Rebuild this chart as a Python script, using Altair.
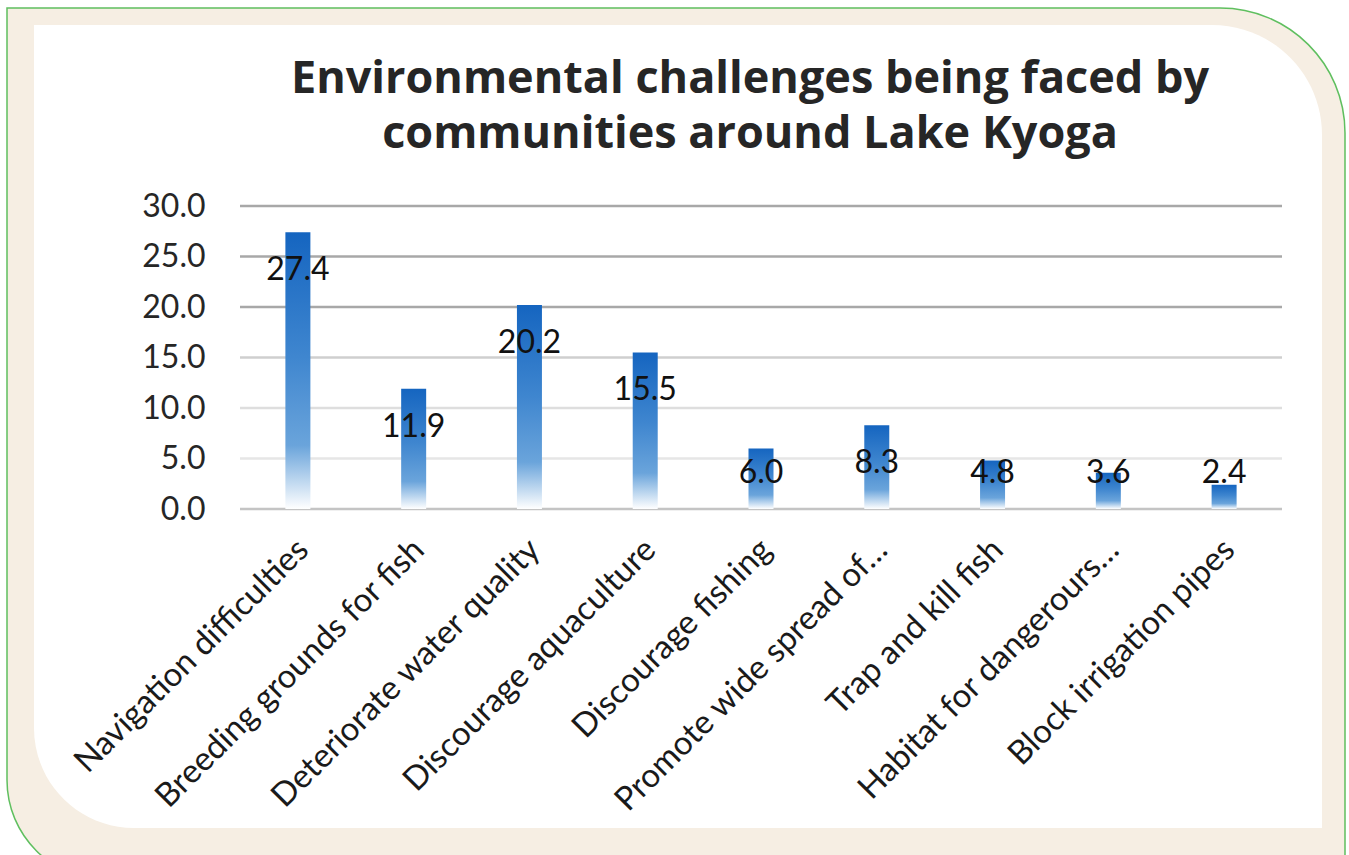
import altair as alt
import pandas as pd

categories = [
    "Navigation difficulties",
    "Breeding grounds for fish",
    "Deteriorate water quality",
    "Discourage aquaculture",
    "Discourage fishing",
    "Promote wide spread of…",
    "Trap and kill fish",
    "Habitat for dangerours…",
    "Block irrigation pipes",
]
values = [27.4, 11.9, 20.2, 15.5, 6.0, 8.3, 4.8, 3.6, 2.4]
title_lines = ["Environmental challenges being faced by", "communities around Lake Kyoga"]
y_ticks = [0, 5, 10, 15, 20, 25, 30]

df = pd.DataFrame({"cat": categories, "val": values})
grid_df = pd.DataFrame({"v": y_ticks})
one = pd.DataFrame({"k": [0]})

W, H = 1042, 303
LEFT, TOP = 240, 206

x_scale = alt.Scale(domain=categories, paddingInner=0, paddingOuter=0)
y_scale = alt.Scale(domain=[0, 30], nice=False)

x_axis = alt.Axis(
    title=None, labelAngle=-45, labelFontSize=33, labelFont="Lato",
    labelColor="#1a1a1a", labelPadding=24, labelOffset=-6, labelLimit=0,
    domain=False, ticks=False, grid=False, zindex=2)
y_axis = alt.Axis(
    title=None, values=y_ticks, format=".1f", labelFontSize=32,
    labelFont="Lato", labelColor="#262626", labelPadding=35,
    domain=False, ticks=False, grid=False, zindex=2)

# decorative frame
outer = alt.Chart(one).mark_rect(
    color="#f6eee3", stroke="#5fbf5f", strokeWidth=1.5,
    cornerRadiusTopRight=125, cornerRadiusBottomLeft=100,
).encode(x=alt.value(7 - LEFT), x2=alt.value(1345 - LEFT),
         y=alt.value(8 - TOP), y2=alt.value(880 - TOP))

inner = alt.Chart(one).mark_rect(
    color="#ffffff", cornerRadiusTopRight=110, cornerRadiusBottomLeft=100,
).encode(x=alt.value(34 - LEFT), x2=alt.value(1322 - LEFT),
         y=alt.value(25 - TOP), y2=alt.value(828 - TOP))

grid = alt.Chart(grid_df).mark_rule(strokeWidth=2.5).encode(
    y=alt.Y("v:Q", scale=y_scale, axis=y_axis),
    x=alt.value(0), x2=alt.value(W),
    stroke=alt.Color("v:O", scale=alt.Scale(
        domain=y_ticks,
        range=["#c4c4c4", "#e6e6e6", "#dedede", "#cfcfcf", "#a8a8a8", "#a8a8a8", "#a8a8a8"]),
        legend=None),
)

grad = alt.Gradient(
    gradient="linear",
    stops=[
        alt.GradientStop(offset=0, color="#1565c0"),
        alt.GradientStop(offset=0.45, color="#3f86cf"),
        alt.GradientStop(offset=0.77, color="#6aa4db"),
        alt.GradientStop(offset=1, color="#ffffff"),
    ],
    x1=0, x2=0, y1=0, y2=1,
)

bars = alt.Chart(df).mark_bar(size=25, color=grad).encode(
    x=alt.X("cat:N", sort=categories, scale=x_scale, axis=x_axis),
    y=alt.Y("val:Q", scale=y_scale, axis=y_axis),
)

labels = alt.Chart(df).transform_calculate(
    ly="max(datum.val - 3.75, 3.6)"
).mark_text(font="Lato", fontSize=32, color="#111111", baseline="middle", align="center").encode(
    x=alt.X("cat:N", sort=categories, scale=x_scale, axis=x_axis),
    y=alt.Y("ly:Q", scale=y_scale, axis=y_axis),
    text=alt.Text("val:Q", format=".1f"),
)

title = alt.Chart(one).mark_text(
    font="Open Sans", fontSize=45, fontWeight="bold", color="#262626",
    align="center", baseline="alphabetic", lineHeight=55,
).encode(x=alt.value(750 - LEFT), y=alt.value(93 - TOP), text=alt.value(title_lines))

chart = alt.layer(outer, inner, grid, bars, labels, title).properties(
    width=W, height=H, autosize="none",
    padding={"left": LEFT, "top": TOP, "right": 1349 - LEFT - W, "bottom": 855 - TOP - H},
    background="#ffffff",
).configure_view(stroke=None)

chart.save("out.html", embed_options={"renderer": "svg", "actions": False})
